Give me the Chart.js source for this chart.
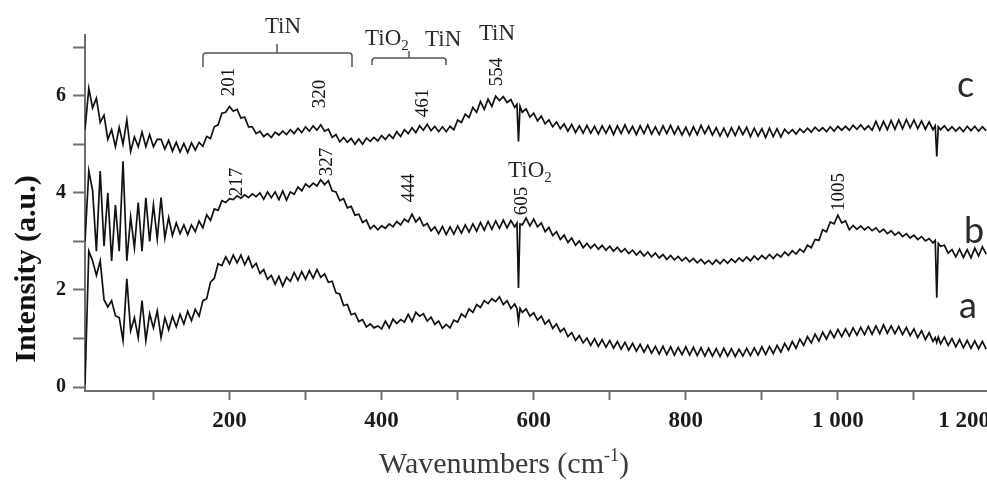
<!DOCTYPE html>
<html lang="en">
<head>
<meta charset="UTF-8">
<title>Raman spectra a, b, c</title>
<script src="https://cdn.jsdelivr.net/npm/chart.js"></script>
<style>
  html, body { margin: 0; padding: 0; background: #fff; overflow: hidden; }
  #wrap { width: 992px; height: 480px; }
</style>
</head>
<body>
<div id="wrap"><canvas id="raman" width="992" height="480"></canvas></div>
<script>
// wavenumber grid (cm-1), read every 5 cm-1, a bit finer round the two spikes
const wavenumbers = [
  10, 15, 20, 25, 30, 35, 40, 45, 50, 55, 60, 65, 70, 75, 80, 85, 90, 95, 100, 105,
  110, 115, 120, 125, 130, 135, 140, 145, 150, 155, 160, 165, 170, 175, 180, 185, 190, 195, 200, 205,
  210, 215, 220, 225, 230, 235, 240, 245, 250, 255, 260, 265, 270, 275, 280, 285, 290, 295, 300, 305,
  310, 315, 320, 325, 330, 335, 340, 345, 350, 355, 360, 365, 370, 375, 380, 385, 390, 395, 400, 405,
  410, 415, 420, 425, 430, 435, 440, 445, 450, 455, 460, 465, 470, 475, 480, 485, 490, 495, 500, 505,
  510, 515, 520, 525, 530, 535, 540, 545, 550, 555, 560, 565, 570, 575, 578, 580, 582, 585, 590, 595, 600, 605,
  610, 615, 620, 625, 630, 635, 640, 645, 650, 655, 660, 665, 670, 675, 680, 685, 690, 695, 700, 705,
  710, 715, 720, 725, 730, 735, 740, 745, 750, 755, 760, 765, 770, 775, 780, 785, 790, 795, 800, 805,
  810, 815, 820, 825, 830, 835, 840, 845, 850, 855, 860, 865, 870, 875, 880, 885, 890, 895, 900, 905,
  910, 915, 920, 925, 930, 935, 940, 945, 950, 955, 960, 965, 970, 975, 980, 985, 990, 995, 1000, 1005,
  1010, 1015, 1020, 1025, 1030, 1035, 1040, 1045, 1050, 1055, 1060, 1065, 1070, 1075, 1080, 1085, 1090, 1095, 1100, 1105,
  1110, 1115, 1120, 1125, 1128, 1130, 1132, 1135, 1140, 1145, 1150, 1155, 1160, 1165, 1170, 1175, 1180, 1185, 1190, 1195
];

const spectrumA = [
  0.05, 2.8, 2.6, 2.3, 2.6, 1.8, 1.65, 1.78, 1.47, 1.43, 0.96, 2.23, 1.16, 1.43, 1.02, 1.78, 0.96, 1.51, 1.22, 1.57,
  1.02, 1.43, 1.18, 1.46, 1.24, 1.5, 1.3, 1.56, 1.37, 1.6, 1.46, 1.78, 1.82, 2.16, 2.24, 2.54, 2.5, 2.68, 2.54, 2.72,
  2.56, 2.72, 2.52, 2.68, 2.46, 2.55, 2.34, 2.42, 2.22, 2.3, 2.12, 2.28, 2.08, 2.26, 2.18, 2.36, 2.2, 2.38, 2.22, 2.4,
  2.24, 2.42, 2.26, 2.33, 2.16, 2.18, 1.94, 1.92, 1.68, 1.7, 1.49, 1.52, 1.35, 1.39, 1.24, 1.3, 1.22, 1.26, 1.2, 1.36,
  1.22, 1.4, 1.31, 1.39, 1.34, 1.5, 1.35, 1.54, 1.46, 1.51, 1.36, 1.44, 1.29, 1.36, 1.21, 1.29, 1.22, 1.38, 1.34, 1.51,
  1.44, 1.61, 1.54, 1.7, 1.64, 1.78, 1.72, 1.82, 1.76, 1.86, 1.7, 1.78, 1.62, 1.71, 1.62, 1.35, 1.62, 1.54, 1.61, 1.46, 1.53, 1.38,
  1.46, 1.3, 1.38, 1.21, 1.3, 1.14, 1.21, 1.04, 1.12, 0.96, 1.06, 0.91, 1.01, 0.86, 1.0, 0.84, 0.98, 0.82, 0.96, 0.8,
  0.94, 0.78, 0.92, 0.76, 0.9, 0.74, 0.88, 0.72, 0.86, 0.7, 0.84, 0.68, 0.84, 0.67, 0.83, 0.66, 0.82, 0.67, 0.83, 0.66,
  0.82, 0.65, 0.81, 0.64, 0.8, 0.64, 0.79, 0.63, 0.8, 0.64, 0.79, 0.63, 0.78, 0.64, 0.8, 0.65, 0.81, 0.66, 0.83, 0.67,
  0.84, 0.69, 0.86, 0.72, 0.9, 0.76, 0.94, 0.8, 0.99, 0.86, 1.04, 0.91, 1.09, 0.95, 1.13, 0.99, 1.16, 1.02, 1.19, 1.04,
  1.2, 1.05, 1.22, 1.07, 1.23, 1.08, 1.25, 1.09, 1.26, 1.1, 1.28, 1.11, 1.26, 1.1, 1.25, 1.08, 1.23, 1.06, 1.2, 1.02,
  1.16, 0.98, 1.12, 0.94, 1.02, 0.92, 1.03, 0.89, 1.03, 0.86, 1.0, 0.83, 0.98, 0.81, 0.96, 0.8, 0.95, 0.79, 0.94, 0.78
];

const spectrumB = [
  3.0, 4.45, 4.05, 2.8, 4.45, 2.9, 4.0, 2.6, 3.75, 2.8, 4.65, 2.6, 3.5, 2.87, 3.8, 2.8, 3.9, 3.0, 3.75, 3.05,
  3.9, 3.07, 3.49, 3.12, 3.38, 3.16, 3.34, 3.14, 3.34, 3.2, 3.42, 3.28, 3.55, 3.43, 3.67, 3.64, 3.84, 3.8, 3.88, 3.86,
  3.94, 3.89, 3.96, 3.9, 3.98, 3.92, 4.0, 3.87, 4.02, 3.9, 4.02, 3.86, 4.04, 3.85, 4.02, 3.97, 4.12, 4.04, 4.18, 4.12,
  4.2, 4.14, 4.27, 4.17, 4.25, 4.04, 4.02, 3.84, 3.88, 3.69, 3.72, 3.54, 3.56, 3.39, 3.44, 3.26, 3.33, 3.24, 3.32, 3.27,
  3.36, 3.3, 3.41, 3.34, 3.46, 3.4, 3.56, 3.4, 3.49, 3.32, 3.37, 3.22, 3.3, 3.16, 3.31, 3.14, 3.3, 3.15, 3.32, 3.17,
  3.34, 3.19, 3.36, 3.21, 3.39, 3.23, 3.41, 3.25, 3.42, 3.27, 3.44, 3.28, 3.43, 3.3, 3.38, 2.04, 3.36, 3.34, 3.48, 3.32, 3.46, 3.3,
  3.38, 3.2, 3.29, 3.12, 3.2, 3.04, 3.13, 2.98, 3.07, 2.92, 3.01, 2.87, 2.96, 2.86, 2.94, 2.84, 2.92, 2.82, 2.9, 2.8,
  2.88, 2.78, 2.85, 2.75, 2.82, 2.72, 2.8, 2.7, 2.78, 2.68, 2.76, 2.66, 2.73, 2.63, 2.71, 2.62, 2.69, 2.6, 2.67, 2.58,
  2.65, 2.56, 2.63, 2.54, 2.61, 2.53, 2.62, 2.54, 2.63, 2.55, 2.64, 2.57, 2.66, 2.59, 2.68, 2.6, 2.7, 2.62, 2.71, 2.64,
  2.73, 2.65, 2.74, 2.68, 2.78, 2.71, 2.81, 2.74, 2.84, 2.78, 2.92, 2.87, 3.04, 3.02, 3.24, 3.2, 3.4, 3.36, 3.54, 3.38,
  3.42, 3.24, 3.33, 3.25, 3.32, 3.24, 3.3, 3.22, 3.28, 3.19, 3.25, 3.16, 3.22, 3.13, 3.19, 3.1, 3.16, 3.07, 3.13, 3.04,
  3.1, 3.01, 3.06, 2.97, 3.02, 1.84, 2.96, 2.9, 2.92, 2.76, 2.83, 2.68, 2.84, 2.67, 2.83, 2.66, 2.86, 2.7, 2.89, 2.74
];

const spectrumC = [
  5.3, 6.15, 5.75, 5.95, 5.45, 5.6, 5.1, 5.3, 4.95, 5.35, 5.0, 5.5, 4.85, 5.15, 4.95, 5.25, 4.95, 5.2, 4.95, 5.1,
  5.1, 4.9, 5.08, 4.86, 5.04, 4.84, 5.02, 4.83, 5.03, 4.88, 5.04, 4.96, 5.16, 5.12, 5.36, 5.4, 5.64, 5.66, 5.78, 5.68,
  5.72, 5.54, 5.56, 5.36, 5.36, 5.22, 5.27, 5.16, 5.22, 5.14, 5.25, 5.19, 5.27, 5.2, 5.3, 5.22, 5.33, 5.24, 5.36, 5.27,
  5.38, 5.29, 5.4, 5.27, 5.31, 5.14, 5.2, 5.05, 5.14, 5.04, 5.12, 5.0, 5.11, 5.0, 5.13, 5.06, 5.14, 5.07, 5.18, 5.1,
  5.2, 5.12, 5.26, 5.16, 5.3, 5.22, 5.34, 5.24, 5.38, 5.29, 5.41, 5.28, 5.37, 5.26, 5.36, 5.26, 5.37, 5.3, 5.5, 5.45,
  5.62, 5.55, 5.76, 5.66, 5.88, 5.72, 5.93, 5.78, 5.99, 5.9, 5.98, 5.86, 5.92, 5.76, 5.82, 5.06, 5.78, 5.66, 5.73, 5.56, 5.64, 5.48,
  5.58, 5.42, 5.5, 5.36, 5.46, 5.32, 5.42, 5.27, 5.41, 5.24, 5.38, 5.23, 5.39, 5.23, 5.37, 5.21, 5.38, 5.23, 5.38, 5.2,
  5.38, 5.22, 5.4, 5.23, 5.37, 5.2, 5.38, 5.22, 5.4, 5.21, 5.36, 5.2, 5.38, 5.22, 5.39, 5.21, 5.36, 5.19, 5.35, 5.18,
  5.36, 5.2, 5.39, 5.22, 5.37, 5.19, 5.34, 5.17, 5.33, 5.16, 5.34, 5.18, 5.36, 5.2, 5.35, 5.16, 5.33, 5.17, 5.32, 5.14,
  5.33, 5.16, 5.32, 5.15, 5.31, 5.22, 5.3, 5.21, 5.32, 5.24, 5.33, 5.25, 5.35, 5.27, 5.34, 5.26, 5.36, 5.27, 5.37, 5.29,
  5.37, 5.29, 5.39, 5.31, 5.4, 5.3, 5.38, 5.29, 5.47, 5.29, 5.47, 5.3, 5.49, 5.31, 5.5, 5.32, 5.51, 5.34, 5.5, 5.32,
  5.48, 5.31, 5.46, 5.3, 5.38, 4.75, 5.36, 5.3, 5.38, 5.28, 5.36, 5.27, 5.35, 5.26, 5.37, 5.28, 5.37, 5.27, 5.36, 5.28
];

const seriesNames = ['a', 'b', 'c'];
const xTickValues = [100, 200, 300, 400, 500, 600, 700, 800, 900, 1000, 1100, 1200];
const xMajorTicks = [200, 400, 600, 800, 1000, 1200];
const xMajorLabels = ['200', '400', '600', '800', '1 000', '1 200'];
const yTickValues = [0, 1, 2, 3, 4, 5, 6, 7];
const yMajorTicks = [0, 2, 4, 6];
const yMajorLabels = ['0', '2', '4', '6'];

const SERIF = '"Liberation Serif", "Times New Roman", serif';

// text drawn on top of the plot: peak positions, phase brackets, curve letters, axis titles
const decor = {
    id: 'decor',
    afterDraw(chart) {
        const c = chart.ctx;
        c.save();

        // rotated peak numbers
        const peaks = [
            ['201', 229, 82], ['320', 320, 94], ['461', 423, 103], ['554', 497, 72],
            ['217', 237, 182], ['327', 327, 162], ['444', 409, 188], ['605', 522, 201],
            ['1005', 839, 192]
        ];
        c.fillStyle = '#111';
        c.font = '19px ' + SERIF;
        c.textAlign = 'center';
        c.textBaseline = 'middle';
        peaks.forEach(([t, x, y]) => {
            c.save();
            c.translate(x, y);
            c.rotate(-Math.PI / 2);
            c.fillText(t, 0, 0);
            c.restore();
        });

        // phase labels
        c.fillStyle = '#2a2a2a';
        c.textBaseline = 'alphabetic';
        c.font = '23px ' + SERIF;
        c.textAlign = 'center';
        c.fillText('TiN', 283, 33);
        c.fillText('TiN', 497, 40);
        c.textAlign = 'left';
        c.fillText('TiN', 425, 46);
        const tio2 = (x, y) => {
            c.font = '23px ' + SERIF;
            c.fillText('TiO', x, y);
            const w = c.measureText('TiO').width;
            c.font = '15px ' + SERIF;
            c.fillText('2', x + w, y + 5);
        };
        tio2(365, 45);
        tio2(508, 177);

        // brackets
        c.strokeStyle = '#555';
        c.lineWidth = 1.5;
        const bracket = (x1, x2, xm, y, yEnd, yTip) => {
            c.beginPath();
            c.moveTo(x1, yEnd);
            c.lineTo(x1, y + 3);
            c.quadraticCurveTo(x1, y, x1 + 3, y);
            c.lineTo(x2 - 3, y);
            c.quadraticCurveTo(x2, y, x2, y + 3);
            c.lineTo(x2, yEnd);
            c.moveTo(xm, y);
            c.lineTo(xm, yTip);
            c.stroke();
        };
        bracket(203, 352, 277, 53, 67, 44);
        bracket(372, 446, 409, 58, 65, 51);

        // curve letters
        c.fillStyle = '#2b2b2b';
        c.font = '36px Lato, "Open Sans", sans-serif';
        c.textAlign = 'left';
        c.fillText(seriesNames[2], 957, 97);
        c.fillText(seriesNames[1], 964, 243);
        c.fillText(seriesNames[0], 959, 318);

        // y title
        c.fillStyle = '#111';
        c.font = 'bold 30px ' + SERIF;
        c.textAlign = 'center';
        c.save();
        c.translate(35, 269);
        c.rotate(-Math.PI / 2);
        c.fillText('Intensity (a.u.)', 0, 0);
        c.restore();

        // x title with superscript
        c.fillStyle = '#3a3a3a';
        const main = 'Wavenumbers (cm';
        c.font = '30px ' + SERIF;
        const w1 = c.measureText(main).width;
        const wClose = c.measureText(')').width;
        c.font = '18px ' + SERIF;
        const wSup = c.measureText('-1').width;
        const x0 = 504 - (w1 + wSup + wClose) / 2;
        c.textAlign = 'left';
        c.font = '30px ' + SERIF;
        c.fillText(main, x0, 473);
        c.font = '18px ' + SERIF;
        c.fillText('-1', x0 + w1, 461);
        c.font = '30px ' + SERIF;
        c.fillText(')', x0 + w1 + wSup, 473);

        c.restore();
    }
};

const toPoints = ys => wavenumbers.map((w, i) => ({ x: w, y: ys[i] }));
const axisColor = '#6e6e6e';

new Chart(document.getElementById('raman').getContext('2d'), {
    type: 'line',
    data: {
        datasets: [spectrumA, spectrumB, spectrumC].map((ys, i) => ({
            label: seriesNames[i],
            data: toPoints(ys),
            borderColor: '#111',
            borderWidth: 1.7,
            pointRadius: 0,
            tension: 0,
            fill: false
        }))
    },
    options: {
        responsive: false,
        animation: false,
        layout: { padding: { top: 35, right: 2, left: 0, bottom: 0 } },
        plugins: {
            legend: { display: false },
            tooltip: { enabled: false }
        },
        scales: {
            x: {
                type: 'linear',
                min: 10,
                max: 1200,
                border: { display: true, color: axisColor, width: 2 },
                grid: { display: true, drawOnChartArea: false, drawTicks: true, tickLength: 9, tickColor: axisColor, tickWidth: 2 },
                afterBuildTicks: s => { s.ticks = xTickValues.map(v => ({ value: v })); },
                ticks: {
                    autoSkip: false,
                    maxRotation: 0,
                    align: 'inner',
                    padding: 7,
                    color: '#1a1a1a',
                    font: { family: SERIF, size: 23, weight: 'bold' },
                    callback: v => {
                        const i = xMajorTicks.indexOf(v);
                        return i < 0 ? '' : xMajorLabels[i];
                    }
                },
                afterFit: s => { s.height = 89; s.paddingLeft = 0; s.paddingRight = 0; }
            },
            y: {
                min: -0.08,
                max: 7.25,
                border: { display: true, color: axisColor, width: 2 },
                grid: { display: true, drawOnChartArea: false, drawTicks: true, tickLength: 12, tickColor: axisColor, tickWidth: 2 },
                afterBuildTicks: s => { s.ticks = yTickValues.map(v => ({ value: v })); },
                ticks: {
                    autoSkip: false,
                    padding: 7,
                    color: '#1a1a1a',
                    font: { family: SERIF, size: 20, weight: 'bold' },
                    callback: v => {
                        const i = yMajorTicks.indexOf(v);
                        return i < 0 ? '' : yMajorLabels[i];
                    }
                },
                afterFit: s => { s.width = 85; s.paddingTop = 0; s.paddingBottom = 0; }
            }
        }
    },
    plugins: [decor]
});
</script>
</body>
</html>
